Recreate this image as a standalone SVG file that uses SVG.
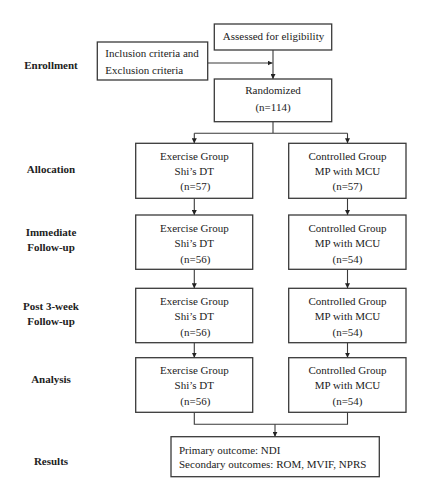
<svg xmlns="http://www.w3.org/2000/svg" width="430" height="500" viewBox="0 0 430 500">
<defs>
<style>
.box{fill:#fff;stroke:#3a3a3a;stroke-width:1.3}
.t{font-family:"Liberation Serif","Times New Roman",serif;font-size:11px;fill:#222}
.c{text-anchor:middle}
.lab{font-family:"Liberation Serif","Times New Roman",serif;font-size:11px;font-weight:bold;fill:#222;text-anchor:middle}
.ln{fill:none;stroke:#3a3a3a;stroke-width:1.1}
</style>
<marker id="ah" viewBox="0 0 8 8" refX="8" refY="4" markerWidth="5" markerHeight="5" orient="auto" markerUnits="userSpaceOnUse">
<path d="M0,0 L8,4 L0,8 z" fill="#222"/>
</marker>
</defs>
<rect width="430" height="500" fill="#fff"/>
<g id="stage-labels">
<text class="lab" x="51" y="69">Enrollment</text>
<text class="lab" x="51" y="173">Allocation</text>
<text class="lab" x="51" y="235.5">Immediate</text>
<text class="lab" x="51" y="250.5">Follow-up</text>
<text class="lab" x="51" y="309.5">Post 3-week</text>
<text class="lab" x="51" y="325">Follow-up</text>
<text class="lab" x="51" y="383">Analysis</text>
<text class="lab" x="51" y="464.5">Results</text>
</g>
<g id="connectors">
<path class="ln" d="M273,50 V79" marker-end="url(#ah)"/>
<path class="ln" d="M207.7,63 H272.5" marker-end="url(#ah)"/>
<path class="ln" d="M273,121.7 V133.3 M194.3,133.3 H347.5"/>
<path class="ln" d="M194.3,133.3 V143.3" marker-end="url(#ah)"/>
<path class="ln" d="M347.5,133.3 V143.3" marker-end="url(#ah)"/>
<path class="ln" d="M194.3,198.3 V215" marker-end="url(#ah)"/>
<path class="ln" d="M347.5,198.3 V215" marker-end="url(#ah)"/>
<path class="ln" d="M194.3,269.3 V288.3" marker-end="url(#ah)"/>
<path class="ln" d="M347.5,269.3 V288.3" marker-end="url(#ah)"/>
<path class="ln" d="M194.3,342.7 V357.7" marker-end="url(#ah)"/>
<path class="ln" d="M347.5,342.7 V357.7" marker-end="url(#ah)"/>
<path class="ln" d="M194.3,412.3 V424.3 H347.5 V412.3"/>
<path class="ln" d="M275,424.3 V436.7" marker-end="url(#ah)"/>
</g>
<g id="assessed">
<rect class="box" x="214.3" y="24" width="117.4" height="26"/>
<text class="t c" x="273.5" y="39.5">Assessed for eligibility</text>
</g>
<g id="criteria">
<rect class="box" x="97.3" y="42" width="110.4" height="38"/>
<text class="t" x="105.3" y="57">Inclusion criteria and</text>
<text class="t" x="105.3" y="74">Exclusion criteria</text>
</g>
<g id="randomized">
<rect class="box" x="214.3" y="79" width="117.4" height="42.7"/>
<text class="t c" x="273" y="94">Randomized</text>
<text class="t c" x="273" y="111">(n=114)</text>
</g>
<g id="alloc-ex">
<rect class="box" x="135.7" y="143.3" width="117" height="55"/>
<text class="t c" x="194.3" y="160">Exercise Group</text>
<text class="t c" x="194.3" y="174.5">Shi’s DT</text>
<text class="t c" x="195.3" y="190">(n=57)</text>
</g>
<g id="alloc-ct">
<rect class="box" x="288.7" y="143.3" width="117.3" height="55"/>
<text class="t c" x="347.5" y="160">Controlled Group</text>
<text class="t c" x="347.5" y="174.5">MP with MCU</text>
<text class="t c" x="347.5" y="190">(n=57)</text>
</g>
<g id="imm-ex">
<rect class="box" x="135.7" y="215" width="117" height="54.3"/>
<text class="t c" x="194.3" y="232">Exercise Group</text>
<text class="t c" x="194.3" y="246.5">Shi’s DT</text>
<text class="t c" x="195.3" y="263">(n=56)</text>
</g>
<g id="imm-ct">
<rect class="box" x="288.7" y="215" width="117.3" height="54.3"/>
<text class="t c" x="347.5" y="232">Controlled Group</text>
<text class="t c" x="347.5" y="246.5">MP with MCU</text>
<text class="t c" x="347.5" y="263">(n=54)</text>
</g>
<g id="post-ex">
<rect class="box" x="135.7" y="288.3" width="117" height="54.4"/>
<text class="t c" x="194.3" y="304.5">Exercise Group</text>
<text class="t c" x="194.3" y="320">Shi’s DT</text>
<text class="t c" x="195.3" y="335.5">(n=56)</text>
</g>
<g id="post-ct">
<rect class="box" x="288.7" y="288.3" width="117.3" height="54.4"/>
<text class="t c" x="347.5" y="304.5">Controlled Group</text>
<text class="t c" x="347.5" y="320">MP with MCU</text>
<text class="t c" x="347.5" y="335.5">(n=54)</text>
</g>
<g id="ana-ex">
<rect class="box" x="135.7" y="357.7" width="117" height="54.6"/>
<text class="t c" x="194.3" y="374">Exercise Group</text>
<text class="t c" x="194.3" y="389">Shi’s DT</text>
<text class="t c" x="195.3" y="405">(n=56)</text>
</g>
<g id="ana-ct">
<rect class="box" x="288.7" y="357.7" width="117.3" height="54.6"/>
<text class="t c" x="347.5" y="374">Controlled Group</text>
<text class="t c" x="347.5" y="389">MP with MCU</text>
<text class="t c" x="347.5" y="405">(n=54)</text>
</g>
<g id="results">
<rect class="box" x="171" y="436.7" width="208.3" height="40"/>
<text class="t" x="179" y="453.5">Primary outcome: NDI</text>
<text class="t" x="179" y="468">Secondary outcomes: ROM, MVIF, NPRS</text>
</g>
</svg>
